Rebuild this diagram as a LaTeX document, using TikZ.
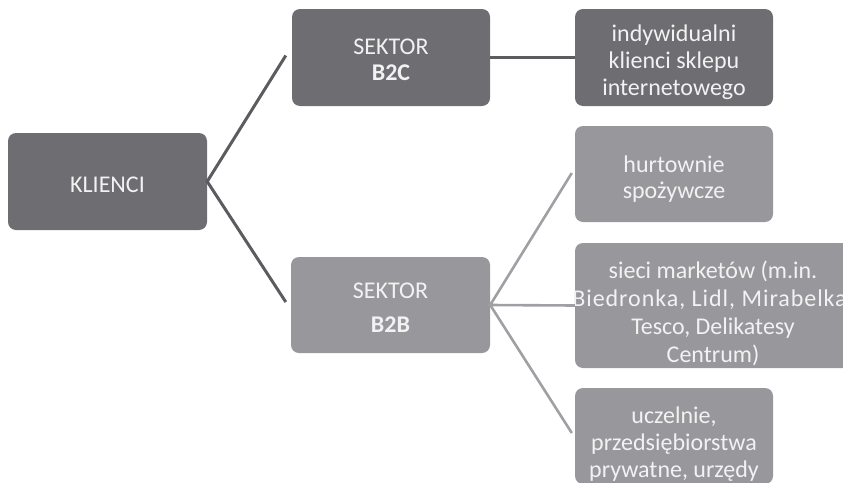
\documentclass[tikz,border=0pt]{standalone}
\usepackage{fontspec}
\setmainfont{Carlito}
\definecolor{darkbox}{HTML}{6E6E72}
\definecolor{lightbox}{HTML}{98989C}
\definecolor{darkline}{HTML}{5C5C60}
\definecolor{lightline}{HTML}{A0A0A4}
\definecolor{boxtext}{HTML}{F2F2F2}
\begin{document}
\begin{tikzpicture}[x=1pt,y=-1pt,
  box/.style={rounded corners=8pt, inner sep=0pt, minimum width=198pt, minimum height=97pt},
  dbox/.style={box, fill=darkbox},
  lbox/.style={box, fill=lightbox},
  txt/.style={inner sep=0pt, align=center, text=boxtext, font=\fontsize{24}{27}\selectfont},
  dline/.style={draw=darkline, line width=3pt},
  lline/.style={draw=lightline, line width=2.6pt}]
\useasboundingbox (0,0) rectangle (843,482);
\clip (0,0) rectangle (843,482);
% boxes
\node[dbox, minimum width=199pt] (klienci) at (107.5,181.5) {};
\node[dbox] (b2c) at (391,57.5) {};
\node[dbox] (indyw) at (674,57.5) {};
\node[lbox, minimum width=199pt, minimum height=96pt] (b2b) at (390.5,305) {};
\node[lbox, minimum height=96pt] (hurt) at (674,174) {};
\node[lbox, minimum width=276pt, minimum height=125pt] (sieci) at (713,305.5) {};
\node[lbox, minimum height=96pt] (uczel) at (674,436) {};
% texts (yshift is in canvas direction: negative moves down)
\node[txt] (kliencitxt) at ([yshift=-3pt]klienci.center) {KLIENCI};
\node[txt, font=\fontsize{24}{26}\selectfont] (b2ctxt) at ([yshift=-2pt]b2c.center) {SEKTOR\\\textbf{B2C}};
\node[txt] (indywtxt) at ([yshift=-5pt]indyw.center) {indywidualni\\klienci sklepu\\internetowego};
\node[txt] (b2btxt) at ([yshift=-3pt]b2b.center) {SEKTOR\\[7pt]\textbf{B2B}};
\node[txt, font=\fontsize{24}{26}\selectfont] (hurttxt) at ([yshift=-5.5pt]hurt.center) {hurtownie\\spożywcze};
\node[txt, font=\fontsize{24}{28}\selectfont] (siecitxt) at ([yshift=-7.5pt]sieci.center) {sieci marketów (m.in.\\{\addfontfeature{LetterSpace=4}Biedronka, Lidl, Mirabelka,}\\Tesco, Delikatesy\\Centrum)};
\node[txt] (ucztxt) at ([yshift=-8pt]uczel.center) {uczelnie,\\przedsiębiorstwa\\prywatne, urzędy};
% connectors
\coordinate (kj) at (klienci.east);
\coordinate (bj) at (b2b.east);
\draw[dline] ([xshift=-6pt,yshift=2pt]b2c.west) -- (kj) -- ([xshift=-5pt,yshift=3pt]b2b.west);
\draw[dline] (b2c.east) -- (indyw.west);
\draw[lline] ([xshift=-3pt,yshift=1pt]hurt.west) -- (bj) -- (sieci.west);
\draw[lline] (bj) -- ([xshift=-3pt,yshift=3pt]uczel.west);
\end{tikzpicture}
\end{document}
